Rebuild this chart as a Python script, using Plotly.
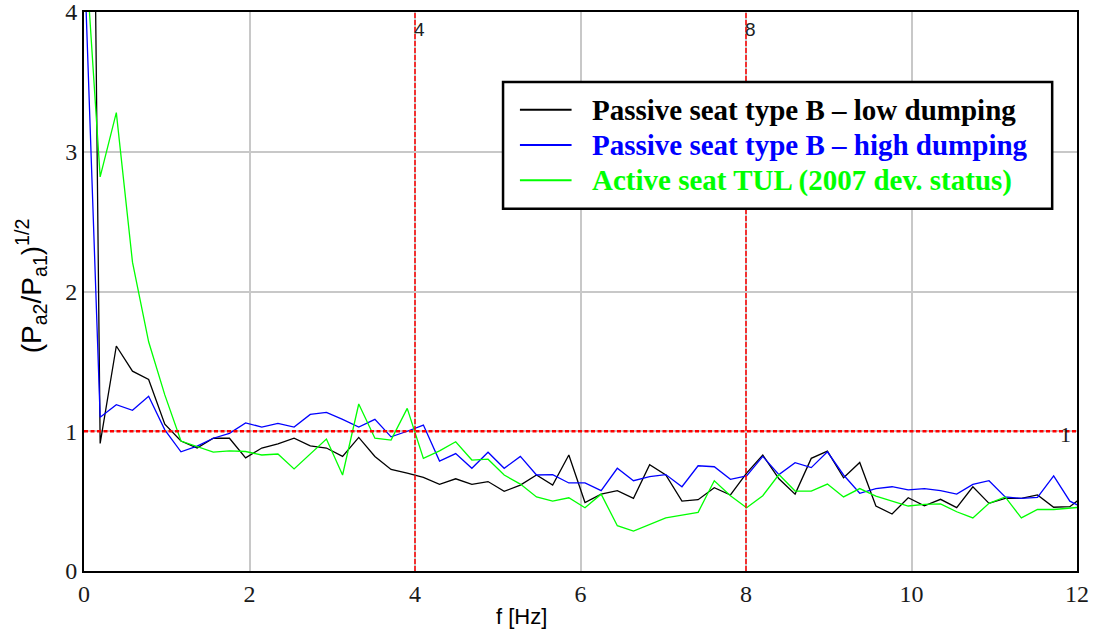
import numpy as np
import plotly.graph_objects as go

# frequency resolution of the spectra (Hz)
df_hz = 0.1953
n_pts = 63

low_damping = [12.0, 0.913, 1.61, 1.43, 1.37, 1.05, 0.93, 0.88, 0.95, 0.95,
               0.81, 0.88, 0.91, 0.95, 0.895, 0.88, 0.82, 0.956, 0.82, 0.727,
               0.70, 0.67, 0.62, 0.66, 0.62, 0.64, 0.57, 0.615, 0.687, 0.615,
               0.83, 0.49, 0.55, 0.575, 0.52, 0.76, 0.687, 0.50, 0.51, 0.596,
               0.544, 0.70, 0.83, 0.66, 0.55, 0.806, 0.858, 0.667, 0.777, 0.465,
               0.408, 0.524, 0.467, 0.513, 0.453, 0.603, 0.484, 0.52, 0.52, 0.544,
               0.456, 0.46, 0.55]

high_damping = [4.45, 1.10, 1.19, 1.15, 1.25, 1.01, 0.853, 0.894, 0.95, 0.985,
                1.06, 1.03, 1.056, 1.03, 1.12, 1.135, 1.085, 1.03, 1.085, 0.96,
                1.0, 1.044, 0.787, 0.84, 0.735, 0.85, 0.735, 0.82, 0.687, 0.69,
                0.63, 0.63, 0.575, 0.735, 0.646, 0.675, 0.69, 0.603, 0.753, 0.746,
                0.656, 0.68, 0.82, 0.69, 0.775, 0.74, 0.853, 0.687, 0.556, 0.59,
                0.603, 0.58, 0.59, 0.575, 0.55, 0.62, 0.646, 0.53, 0.52, 0.527,
                0.68, 0.50, 0.44]

active_tul = [4.6, 2.82, 3.28, 2.21, 1.64, 1.26, 0.93, 0.89, 0.85, 0.86,
              0.855, 0.83, 0.837, 0.73, 0.84, 0.944, 0.687, 1.195, 0.95, 0.937,
              1.164, 0.806, 0.86, 0.925, 0.794, 0.80, 0.687, 0.622, 0.53, 0.50,
              0.524, 0.453, 0.55, 0.324, 0.286, 0.334, 0.38, 0.40, 0.42, 0.646,
              0.539, 0.453, 0.539, 0.69, 0.572, 0.572, 0.622, 0.53, 0.59, 0.536,
              0.50, 0.465, 0.477, 0.48, 0.424, 0.38, 0.484, 0.53, 0.38, 0.44,
              0.44, 0.45, 0.46]

freq = np.arange(n_pts) * df_hz

series_names = ["Passive seat type B \u2013 low dumping",
                "Passive seat type B \u2013 high dumping",
                "Active seat TUL (2007 dev. status)"]
series_colors = ["#000000", "#0000ff", "#00ff00"]

x_ticks = [0, 2, 4, 6, 8, 10, 12]
y_ticks = [0, 1, 2, 3, 4]
marker_x = [4, 8]
marker_y = [1]

SERIF = "Liberation Serif, Times New Roman, serif"
SANS = "Liberation Sans, Arial, sans-serif"

fig = go.Figure()
for name, vals, col in zip(series_names, [low_damping, high_damping, active_tul], series_colors):
    fig.add_trace(go.Scatter(
        x=freq, y=vals, mode="lines",
        line=dict(color=col, width=1.3),
        name=name, showlegend=False,
    ))

# markers (Mathcad-style)
for mx in marker_x:
    fig.add_vline(x=mx, line=dict(color="#ff0000", width=1.5, dash="5px,2px"), layer="above")
    fig.add_annotation(x=mx, y=0.968, xref="x", yref="paper", text=str(mx),
                       showarrow=False, xanchor="left", yanchor="middle", xshift=-3,
                       font=dict(family=SANS, size=19, color="#202020"))
for my in marker_y:
    fig.add_hline(y=my, line=dict(color="#ff0000", width=2.5, dash="4px,2.5px"), layer="above")
    fig.add_annotation(x=12, y=my, xref="x", yref="y", text=str(my),
                       showarrow=False, xanchor="right", yanchor="middle", xshift=-4, yshift=-3,
                       font=dict(family=SERIF, size=22, color="#202020"))

# legend box (paper coordinates)
leg_box = dict(x0=0.422, x1=0.975, y0=0.648, y1=0.875)
leg_rows = [0.825, 0.762, 0.699]
fig.add_shape(type="rect", xref="paper", yref="paper", layer="above",
              x0=leg_box["x0"], x1=leg_box["x1"], y0=leg_box["y0"], y1=leg_box["y1"],
              line=dict(color="#000000", width=2.5), fillcolor="white")
for name, col, yr in zip(series_names, series_colors, leg_rows):
    fig.add_shape(type="line", xref="paper", yref="paper", layer="above",
                  x0=0.439, x1=0.491, y0=yr, y1=yr, line=dict(color=col, width=2))
    fig.add_annotation(x=0.5096, y=yr, xref="paper", yref="paper", text="<b>%s</b>" % name,
                       showarrow=False, xanchor="left", yanchor="middle",
                       font=dict(family=SERIF, size=29, color=col))

# axis titles
fig.add_annotation(x=0.441, y=-0.082, xref="paper", yref="paper", text="f [Hz]",
                   showarrow=False, xanchor="center", yanchor="middle",
                   font=dict(family=SANS, size=22, color="#000000"))
fig.add_annotation(x=-0.053, y=0.51, xref="paper", yref="paper",
                   text="(P<sub>a2</sub>/P<sub>a1</sub>)<sup>1/2</sup>", textangle=-90,
                   showarrow=False, xanchor="center", yanchor="middle",
                   font=dict(family=SANS, size=28, color="#000000"))

fig.update_layout(
    template="none",
    width=1094, height=644,
    margin=dict(l=84, r=17, t=12, b=73, autoexpand=False),
    paper_bgcolor="white", plot_bgcolor="white",
    font=dict(family=SERIF, size=24, color="#1a1a1a"),
    showlegend=False,
)
fig.update_xaxes(
    range=[0, 12], tickvals=x_ticks, ticktext=[str(v) for v in x_ticks],
    showgrid=True, gridcolor="#c8c8c8", gridwidth=2, zeroline=False,
    showline=True, linecolor="#000000", linewidth=2, mirror=True, ticks="",
    automargin=False, ticklabeloverflow="allow",
    tickfont=dict(family=SERIF, size=24, color="#1a1a1a"),
)
fig.update_yaxes(
    range=[0, 4], tickvals=y_ticks, ticktext=[str(v) for v in y_ticks],
    showgrid=True, gridcolor="#c8c8c8", gridwidth=2, zeroline=False,
    showline=True, linecolor="#000000", linewidth=2, mirror=True, ticks="",
    automargin=False, ticklabeloverflow="allow",
    tickfont=dict(family=SERIF, size=24, color="#1a1a1a"),
)

# remove the default 8px page margin so the figure fills the window exactly
fig.write_html("out.html", config={"displayModeBar": False},
               post_script="document.body.style.margin='0';")
